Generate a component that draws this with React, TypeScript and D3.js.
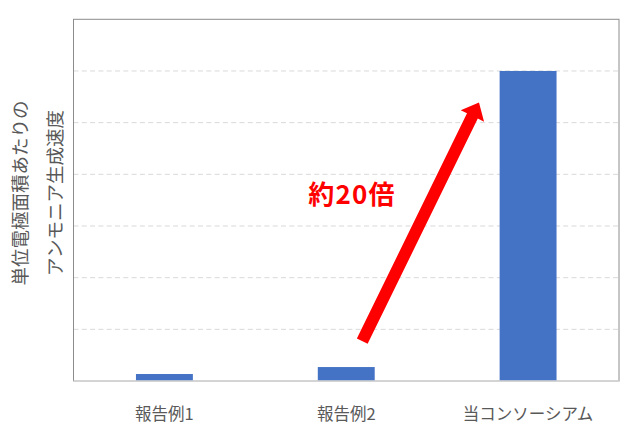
import React from 'react';
import * as d3 from 'd3';

const categories = ['報告例1', '報告例2', '当コンソーシアム'];
const values = [0.135, 0.27, 6.0];
const gridTicks = [1, 2, 3, 4, 5, 6];
const titleLines = ['単位電極面積あたりの', 'アンモニア生成速度'];
const annotationText = '約20倍';

// arrow in data space: position inside the category slot (0 = slot start, 1 = slot end) and value
const arrowTail = { cat: '報告例2', pos: 0.588, value: 0.77 };
const arrowTip = { cat: '当コンソーシアム', pos: 0.23, value: 5.39 };

const width = 628;
const height = 432;
const margin = { top: 19.3, right: 9, bottom: 51, left: 73.5 };
const font = '"Noto Sans CJK JP", "Noto Sans", sans-serif';

const App: React.FC = () => {
  const x = d3.scaleBand<string>()
    .domain(categories)
    .range([margin.left, width - margin.right])
    .paddingInner(0.687)
    .paddingOuter(0.3435);

  const y = d3.scaleLinear()
    .domain([0, 7])
    .range([height - margin.bottom, margin.top]);

  const step = x.step();
  const catX = (c: string, pos: number) =>
    (x(c) ?? 0) + x.bandwidth() / 2 - step / 2 + pos * step;

  // arrow polygon
  const x0 = catX(arrowTail.cat, arrowTail.pos);
  const y0 = y(arrowTail.value);
  const x1 = catX(arrowTip.cat, arrowTip.pos);
  const y1 = y(arrowTip.value);
  const len = Math.hypot(x1 - x0, y1 - y0);
  const ux = (x1 - x0) / len, uy = (y1 - y0) / len;
  const nx = -uy, ny = ux;
  const shaftW = 6, headW = 13, headL = 15;
  const hx = x1 - ux * headL, hy = y1 - uy * headL;
  const pts: [number, number][] = [
    [x0 + nx * shaftW, y0 + ny * shaftW],
    [hx + nx * shaftW, hy + ny * shaftW],
    [hx + nx * headW, hy + ny * headW],
    [x1, y1],
    [hx - nx * headW, hy - ny * headW],
    [hx - nx * shaftW, hy - ny * shaftW],
    [x0 - nx * shaftW, y0 - ny * shaftW],
  ];
  const arrowPath = d3.line()(pts) + 'Z';

  const plotL = margin.left;
  const plotR = width - margin.right;
  const plotT = margin.top;
  const plotB = height - margin.bottom;

  return (
    <svg width={width} height={height} style={{ display: 'block', position: 'absolute', left: 0, top: 0 }}>
      <rect x={0} y={0} width={width} height={height} fill="#ffffff" />

      {/* gridlines */}
      {gridTicks.map(t => (
        <line key={t} x1={plotL} x2={plotR} y1={y(t)} y2={y(t)}
          stroke="#d9d9d9" strokeWidth={1} strokeDasharray="5,3.3" />
      ))}

      {/* plot border */}
      <rect x={plotL} y={plotT} width={plotR - plotL} height={plotB - plotT}
        fill="none" stroke="#8c8c8c" strokeWidth={1} />

      {/* bars */}
      {categories.map((c, i) => (
        <rect key={c} x={x(c)} y={y(values[i])} width={x.bandwidth()}
          height={y(0) - y(values[i])} fill="#4472c4" />
      ))}

      {/* x axis line */}
      <line x1={plotL} x2={plotR} y1={plotB} y2={plotB} stroke="#d9d9d9" strokeWidth={1.3} />

      {/* category labels */}
      {categories.map(c => (
        <text key={c} x={(x(c) ?? 0) + x.bandwidth() / 2} y={420} textAnchor="middle"
          fontFamily={font} fontSize={16.5} fill="#595959">{c}</text>
      ))}

      {/* y axis title */}
      {titleLines.map((line, i) => (
        <text key={line} transform={`translate(${19 + i * 35},193) rotate(-90)`}
          textAnchor="middle" dominantBaseline="central"
          fontFamily={font} fontSize={18.5} fill="#595959">{line}</text>
      ))}

      {/* annotation */}
      <path d={arrowPath} fill="#ff0000" />
      <text x={352} y={204} textAnchor="middle" fontFamily={font} fontSize={26}
        letterSpacing={1.2} fontWeight="bold" fill="#ff0000">{annotationText}</text>
    </svg>
  );
};

export default App;
